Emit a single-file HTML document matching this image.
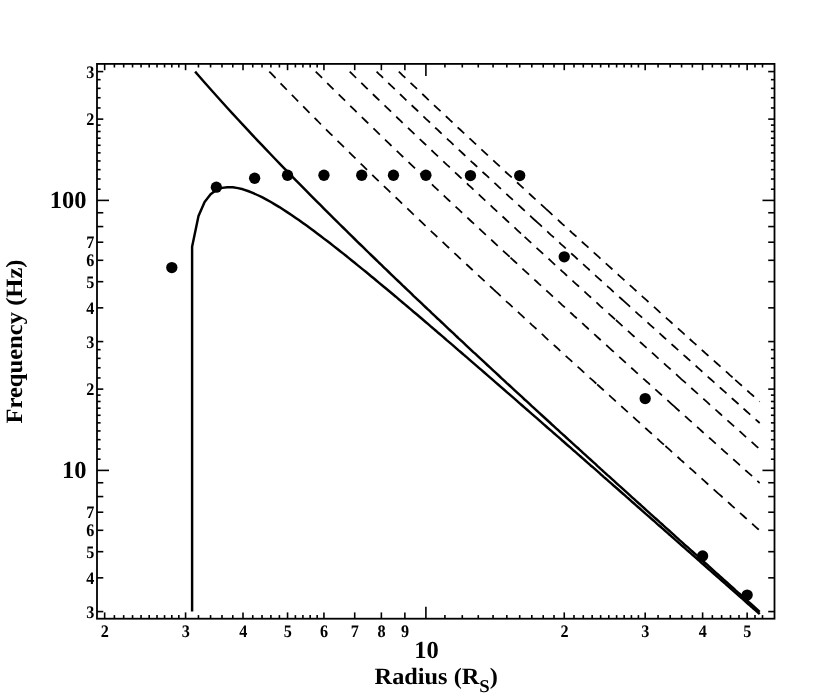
<!DOCTYPE html><html lang="en"><head><meta charset="utf-8"><title>chart</title>
<style>html,body{margin:0;padding:0;background:#fff;}body{width:830px;height:695px;overflow:hidden;}svg{display:block;filter:grayscale(1);}text{font-family:"Liberation Serif",serif;font-weight:bold;fill:#000;text-rendering:geometricPrecision;}</style></head><body>
<svg width="830" height="695" viewBox="0 0 830 695">
<rect x="0" y="0" width="830" height="695" fill="#fff"/>
<rect x="97.0" y="63.9" width="677.5" height="554.8000000000001" fill="none" stroke="#000" stroke-width="1.8"/>
<line x1="104.65" y1="618.7" x2="104.65" y2="612.4000000000001" stroke="#000" stroke-width="1.6"/>
<line x1="104.65" y1="63.9" x2="104.65" y2="70.2" stroke="#000" stroke-width="1.6"/>
<line x1="114.39" y1="618.7" x2="114.39" y2="615.1" stroke="#000" stroke-width="1.6"/>
<line x1="114.39" y1="63.9" x2="114.39" y2="67.5" stroke="#000" stroke-width="1.6"/>
<line x1="123.68" y1="618.7" x2="123.68" y2="615.1" stroke="#000" stroke-width="1.6"/>
<line x1="123.68" y1="63.9" x2="123.68" y2="67.5" stroke="#000" stroke-width="1.6"/>
<line x1="132.55" y1="618.7" x2="132.55" y2="615.1" stroke="#000" stroke-width="1.6"/>
<line x1="132.55" y1="63.9" x2="132.55" y2="67.5" stroke="#000" stroke-width="1.6"/>
<line x1="141.05" y1="618.7" x2="141.05" y2="615.1" stroke="#000" stroke-width="1.6"/>
<line x1="141.05" y1="63.9" x2="141.05" y2="67.5" stroke="#000" stroke-width="1.6"/>
<line x1="149.19" y1="618.7" x2="149.19" y2="615.1" stroke="#000" stroke-width="1.6"/>
<line x1="149.19" y1="63.9" x2="149.19" y2="67.5" stroke="#000" stroke-width="1.6"/>
<line x1="157.02" y1="618.7" x2="157.02" y2="615.1" stroke="#000" stroke-width="1.6"/>
<line x1="157.02" y1="63.9" x2="157.02" y2="67.5" stroke="#000" stroke-width="1.6"/>
<line x1="164.55" y1="618.7" x2="164.55" y2="615.1" stroke="#000" stroke-width="1.6"/>
<line x1="164.55" y1="63.9" x2="164.55" y2="67.5" stroke="#000" stroke-width="1.6"/>
<line x1="171.81" y1="618.7" x2="171.81" y2="615.1" stroke="#000" stroke-width="1.6"/>
<line x1="171.81" y1="63.9" x2="171.81" y2="67.5" stroke="#000" stroke-width="1.6"/>
<line x1="178.82" y1="618.7" x2="178.82" y2="615.1" stroke="#000" stroke-width="1.6"/>
<line x1="178.82" y1="63.9" x2="178.82" y2="67.5" stroke="#000" stroke-width="1.6"/>
<line x1="185.58" y1="618.7" x2="185.58" y2="612.4000000000001" stroke="#000" stroke-width="1.6"/>
<line x1="185.58" y1="63.9" x2="185.58" y2="70.2" stroke="#000" stroke-width="1.6"/>
<line x1="198.47" y1="618.7" x2="198.47" y2="615.1" stroke="#000" stroke-width="1.6"/>
<line x1="198.47" y1="63.9" x2="198.47" y2="67.5" stroke="#000" stroke-width="1.6"/>
<line x1="210.57" y1="618.7" x2="210.57" y2="615.1" stroke="#000" stroke-width="1.6"/>
<line x1="210.57" y1="63.9" x2="210.57" y2="67.5" stroke="#000" stroke-width="1.6"/>
<line x1="221.98" y1="618.7" x2="221.98" y2="615.1" stroke="#000" stroke-width="1.6"/>
<line x1="221.98" y1="63.9" x2="221.98" y2="67.5" stroke="#000" stroke-width="1.6"/>
<line x1="232.77" y1="618.7" x2="232.77" y2="615.1" stroke="#000" stroke-width="1.6"/>
<line x1="232.77" y1="63.9" x2="232.77" y2="67.5" stroke="#000" stroke-width="1.6"/>
<line x1="243.01" y1="618.7" x2="243.01" y2="612.4000000000001" stroke="#000" stroke-width="1.6"/>
<line x1="243.01" y1="63.9" x2="243.01" y2="70.2" stroke="#000" stroke-width="1.6"/>
<line x1="252.75" y1="618.7" x2="252.75" y2="615.1" stroke="#000" stroke-width="1.6"/>
<line x1="252.75" y1="63.9" x2="252.75" y2="67.5" stroke="#000" stroke-width="1.6"/>
<line x1="262.03" y1="618.7" x2="262.03" y2="615.1" stroke="#000" stroke-width="1.6"/>
<line x1="262.03" y1="63.9" x2="262.03" y2="67.5" stroke="#000" stroke-width="1.6"/>
<line x1="270.90" y1="618.7" x2="270.90" y2="615.1" stroke="#000" stroke-width="1.6"/>
<line x1="270.90" y1="63.9" x2="270.90" y2="67.5" stroke="#000" stroke-width="1.6"/>
<line x1="279.40" y1="618.7" x2="279.40" y2="615.1" stroke="#000" stroke-width="1.6"/>
<line x1="279.40" y1="63.9" x2="279.40" y2="67.5" stroke="#000" stroke-width="1.6"/>
<line x1="287.55" y1="618.7" x2="287.55" y2="612.4000000000001" stroke="#000" stroke-width="1.6"/>
<line x1="287.55" y1="63.9" x2="287.55" y2="70.2" stroke="#000" stroke-width="1.6"/>
<line x1="295.38" y1="618.7" x2="295.38" y2="615.1" stroke="#000" stroke-width="1.6"/>
<line x1="295.38" y1="63.9" x2="295.38" y2="67.5" stroke="#000" stroke-width="1.6"/>
<line x1="302.91" y1="618.7" x2="302.91" y2="615.1" stroke="#000" stroke-width="1.6"/>
<line x1="302.91" y1="63.9" x2="302.91" y2="67.5" stroke="#000" stroke-width="1.6"/>
<line x1="310.17" y1="618.7" x2="310.17" y2="615.1" stroke="#000" stroke-width="1.6"/>
<line x1="310.17" y1="63.9" x2="310.17" y2="67.5" stroke="#000" stroke-width="1.6"/>
<line x1="317.17" y1="618.7" x2="317.17" y2="615.1" stroke="#000" stroke-width="1.6"/>
<line x1="317.17" y1="63.9" x2="317.17" y2="67.5" stroke="#000" stroke-width="1.6"/>
<line x1="323.94" y1="618.7" x2="323.94" y2="612.4000000000001" stroke="#000" stroke-width="1.6"/>
<line x1="323.94" y1="63.9" x2="323.94" y2="70.2" stroke="#000" stroke-width="1.6"/>
<line x1="354.71" y1="618.7" x2="354.71" y2="612.4000000000001" stroke="#000" stroke-width="1.6"/>
<line x1="354.71" y1="63.9" x2="354.71" y2="70.2" stroke="#000" stroke-width="1.6"/>
<line x1="381.36" y1="618.7" x2="381.36" y2="612.4000000000001" stroke="#000" stroke-width="1.6"/>
<line x1="381.36" y1="63.9" x2="381.36" y2="70.2" stroke="#000" stroke-width="1.6"/>
<line x1="404.87" y1="618.7" x2="404.87" y2="612.4000000000001" stroke="#000" stroke-width="1.6"/>
<line x1="404.87" y1="63.9" x2="404.87" y2="70.2" stroke="#000" stroke-width="1.6"/>
<line x1="425.90" y1="618.7" x2="425.90" y2="606.7" stroke="#000" stroke-width="1.6"/>
<line x1="425.90" y1="63.9" x2="425.90" y2="75.9" stroke="#000" stroke-width="1.6"/>
<line x1="444.92" y1="618.7" x2="444.92" y2="615.1" stroke="#000" stroke-width="1.6"/>
<line x1="444.92" y1="63.9" x2="444.92" y2="67.5" stroke="#000" stroke-width="1.6"/>
<line x1="462.29" y1="618.7" x2="462.29" y2="615.1" stroke="#000" stroke-width="1.6"/>
<line x1="462.29" y1="63.9" x2="462.29" y2="67.5" stroke="#000" stroke-width="1.6"/>
<line x1="478.27" y1="618.7" x2="478.27" y2="615.1" stroke="#000" stroke-width="1.6"/>
<line x1="478.27" y1="63.9" x2="478.27" y2="67.5" stroke="#000" stroke-width="1.6"/>
<line x1="493.06" y1="618.7" x2="493.06" y2="615.1" stroke="#000" stroke-width="1.6"/>
<line x1="493.06" y1="63.9" x2="493.06" y2="67.5" stroke="#000" stroke-width="1.6"/>
<line x1="506.83" y1="618.7" x2="506.83" y2="615.1" stroke="#000" stroke-width="1.6"/>
<line x1="506.83" y1="63.9" x2="506.83" y2="67.5" stroke="#000" stroke-width="1.6"/>
<line x1="519.71" y1="618.7" x2="519.71" y2="615.1" stroke="#000" stroke-width="1.6"/>
<line x1="519.71" y1="63.9" x2="519.71" y2="67.5" stroke="#000" stroke-width="1.6"/>
<line x1="531.81" y1="618.7" x2="531.81" y2="615.1" stroke="#000" stroke-width="1.6"/>
<line x1="531.81" y1="63.9" x2="531.81" y2="67.5" stroke="#000" stroke-width="1.6"/>
<line x1="543.22" y1="618.7" x2="543.22" y2="615.1" stroke="#000" stroke-width="1.6"/>
<line x1="543.22" y1="63.9" x2="543.22" y2="67.5" stroke="#000" stroke-width="1.6"/>
<line x1="554.02" y1="618.7" x2="554.02" y2="615.1" stroke="#000" stroke-width="1.6"/>
<line x1="554.02" y1="63.9" x2="554.02" y2="67.5" stroke="#000" stroke-width="1.6"/>
<line x1="564.25" y1="618.7" x2="564.25" y2="612.4000000000001" stroke="#000" stroke-width="1.6"/>
<line x1="564.25" y1="63.9" x2="564.25" y2="70.2" stroke="#000" stroke-width="1.6"/>
<line x1="573.99" y1="618.7" x2="573.99" y2="615.1" stroke="#000" stroke-width="1.6"/>
<line x1="573.99" y1="63.9" x2="573.99" y2="67.5" stroke="#000" stroke-width="1.6"/>
<line x1="583.28" y1="618.7" x2="583.28" y2="615.1" stroke="#000" stroke-width="1.6"/>
<line x1="583.28" y1="63.9" x2="583.28" y2="67.5" stroke="#000" stroke-width="1.6"/>
<line x1="592.15" y1="618.7" x2="592.15" y2="615.1" stroke="#000" stroke-width="1.6"/>
<line x1="592.15" y1="63.9" x2="592.15" y2="67.5" stroke="#000" stroke-width="1.6"/>
<line x1="600.65" y1="618.7" x2="600.65" y2="615.1" stroke="#000" stroke-width="1.6"/>
<line x1="600.65" y1="63.9" x2="600.65" y2="67.5" stroke="#000" stroke-width="1.6"/>
<line x1="608.79" y1="618.7" x2="608.79" y2="615.1" stroke="#000" stroke-width="1.6"/>
<line x1="608.79" y1="63.9" x2="608.79" y2="67.5" stroke="#000" stroke-width="1.6"/>
<line x1="616.62" y1="618.7" x2="616.62" y2="615.1" stroke="#000" stroke-width="1.6"/>
<line x1="616.62" y1="63.9" x2="616.62" y2="67.5" stroke="#000" stroke-width="1.6"/>
<line x1="624.15" y1="618.7" x2="624.15" y2="615.1" stroke="#000" stroke-width="1.6"/>
<line x1="624.15" y1="63.9" x2="624.15" y2="67.5" stroke="#000" stroke-width="1.6"/>
<line x1="631.41" y1="618.7" x2="631.41" y2="615.1" stroke="#000" stroke-width="1.6"/>
<line x1="631.41" y1="63.9" x2="631.41" y2="67.5" stroke="#000" stroke-width="1.6"/>
<line x1="638.42" y1="618.7" x2="638.42" y2="615.1" stroke="#000" stroke-width="1.6"/>
<line x1="638.42" y1="63.9" x2="638.42" y2="67.5" stroke="#000" stroke-width="1.6"/>
<line x1="645.18" y1="618.7" x2="645.18" y2="612.4000000000001" stroke="#000" stroke-width="1.6"/>
<line x1="645.18" y1="63.9" x2="645.18" y2="70.2" stroke="#000" stroke-width="1.6"/>
<line x1="658.07" y1="618.7" x2="658.07" y2="615.1" stroke="#000" stroke-width="1.6"/>
<line x1="658.07" y1="63.9" x2="658.07" y2="67.5" stroke="#000" stroke-width="1.6"/>
<line x1="670.17" y1="618.7" x2="670.17" y2="615.1" stroke="#000" stroke-width="1.6"/>
<line x1="670.17" y1="63.9" x2="670.17" y2="67.5" stroke="#000" stroke-width="1.6"/>
<line x1="681.58" y1="618.7" x2="681.58" y2="615.1" stroke="#000" stroke-width="1.6"/>
<line x1="681.58" y1="63.9" x2="681.58" y2="67.5" stroke="#000" stroke-width="1.6"/>
<line x1="692.37" y1="618.7" x2="692.37" y2="615.1" stroke="#000" stroke-width="1.6"/>
<line x1="692.37" y1="63.9" x2="692.37" y2="67.5" stroke="#000" stroke-width="1.6"/>
<line x1="702.61" y1="618.7" x2="702.61" y2="612.4000000000001" stroke="#000" stroke-width="1.6"/>
<line x1="702.61" y1="63.9" x2="702.61" y2="70.2" stroke="#000" stroke-width="1.6"/>
<line x1="712.35" y1="618.7" x2="712.35" y2="615.1" stroke="#000" stroke-width="1.6"/>
<line x1="712.35" y1="63.9" x2="712.35" y2="67.5" stroke="#000" stroke-width="1.6"/>
<line x1="721.63" y1="618.7" x2="721.63" y2="615.1" stroke="#000" stroke-width="1.6"/>
<line x1="721.63" y1="63.9" x2="721.63" y2="67.5" stroke="#000" stroke-width="1.6"/>
<line x1="730.50" y1="618.7" x2="730.50" y2="615.1" stroke="#000" stroke-width="1.6"/>
<line x1="730.50" y1="63.9" x2="730.50" y2="67.5" stroke="#000" stroke-width="1.6"/>
<line x1="739.00" y1="618.7" x2="739.00" y2="615.1" stroke="#000" stroke-width="1.6"/>
<line x1="739.00" y1="63.9" x2="739.00" y2="67.5" stroke="#000" stroke-width="1.6"/>
<line x1="747.15" y1="618.7" x2="747.15" y2="612.4000000000001" stroke="#000" stroke-width="1.6"/>
<line x1="747.15" y1="63.9" x2="747.15" y2="70.2" stroke="#000" stroke-width="1.6"/>
<line x1="754.98" y1="618.7" x2="754.98" y2="615.1" stroke="#000" stroke-width="1.6"/>
<line x1="754.98" y1="63.9" x2="754.98" y2="67.5" stroke="#000" stroke-width="1.6"/>
<line x1="762.51" y1="618.7" x2="762.51" y2="615.1" stroke="#000" stroke-width="1.6"/>
<line x1="762.51" y1="63.9" x2="762.51" y2="67.5" stroke="#000" stroke-width="1.6"/>
<line x1="97.0" y1="611.58" x2="103.3" y2="611.58" stroke="#000" stroke-width="1.6"/>
<line x1="774.5" y1="611.58" x2="768.2" y2="611.58" stroke="#000" stroke-width="1.6"/>
<line x1="97.0" y1="577.84" x2="103.3" y2="577.84" stroke="#000" stroke-width="1.6"/>
<line x1="774.5" y1="577.84" x2="768.2" y2="577.84" stroke="#000" stroke-width="1.6"/>
<line x1="97.0" y1="551.68" x2="103.3" y2="551.68" stroke="#000" stroke-width="1.6"/>
<line x1="774.5" y1="551.68" x2="768.2" y2="551.68" stroke="#000" stroke-width="1.6"/>
<line x1="97.0" y1="530.30" x2="103.3" y2="530.30" stroke="#000" stroke-width="1.6"/>
<line x1="774.5" y1="530.30" x2="768.2" y2="530.30" stroke="#000" stroke-width="1.6"/>
<line x1="97.0" y1="512.22" x2="103.3" y2="512.22" stroke="#000" stroke-width="1.6"/>
<line x1="774.5" y1="512.22" x2="768.2" y2="512.22" stroke="#000" stroke-width="1.6"/>
<line x1="97.0" y1="496.57" x2="103.3" y2="496.57" stroke="#000" stroke-width="1.6"/>
<line x1="774.5" y1="496.57" x2="768.2" y2="496.57" stroke="#000" stroke-width="1.6"/>
<line x1="97.0" y1="482.75" x2="103.3" y2="482.75" stroke="#000" stroke-width="1.6"/>
<line x1="774.5" y1="482.75" x2="768.2" y2="482.75" stroke="#000" stroke-width="1.6"/>
<line x1="97.0" y1="470.40" x2="109.0" y2="470.40" stroke="#000" stroke-width="1.6"/>
<line x1="774.5" y1="470.40" x2="762.5" y2="470.40" stroke="#000" stroke-width="1.6"/>
<line x1="97.0" y1="459.22" x2="100.6" y2="459.22" stroke="#000" stroke-width="1.6"/>
<line x1="774.5" y1="459.22" x2="770.9" y2="459.22" stroke="#000" stroke-width="1.6"/>
<line x1="97.0" y1="449.02" x2="100.6" y2="449.02" stroke="#000" stroke-width="1.6"/>
<line x1="774.5" y1="449.02" x2="770.9" y2="449.02" stroke="#000" stroke-width="1.6"/>
<line x1="97.0" y1="439.64" x2="100.6" y2="439.64" stroke="#000" stroke-width="1.6"/>
<line x1="774.5" y1="439.64" x2="770.9" y2="439.64" stroke="#000" stroke-width="1.6"/>
<line x1="97.0" y1="430.95" x2="100.6" y2="430.95" stroke="#000" stroke-width="1.6"/>
<line x1="774.5" y1="430.95" x2="770.9" y2="430.95" stroke="#000" stroke-width="1.6"/>
<line x1="97.0" y1="422.86" x2="100.6" y2="422.86" stroke="#000" stroke-width="1.6"/>
<line x1="774.5" y1="422.86" x2="770.9" y2="422.86" stroke="#000" stroke-width="1.6"/>
<line x1="97.0" y1="415.29" x2="100.6" y2="415.29" stroke="#000" stroke-width="1.6"/>
<line x1="774.5" y1="415.29" x2="770.9" y2="415.29" stroke="#000" stroke-width="1.6"/>
<line x1="97.0" y1="408.18" x2="100.6" y2="408.18" stroke="#000" stroke-width="1.6"/>
<line x1="774.5" y1="408.18" x2="770.9" y2="408.18" stroke="#000" stroke-width="1.6"/>
<line x1="97.0" y1="401.48" x2="100.6" y2="401.48" stroke="#000" stroke-width="1.6"/>
<line x1="774.5" y1="401.48" x2="770.9" y2="401.48" stroke="#000" stroke-width="1.6"/>
<line x1="97.0" y1="395.14" x2="100.6" y2="395.14" stroke="#000" stroke-width="1.6"/>
<line x1="774.5" y1="395.14" x2="770.9" y2="395.14" stroke="#000" stroke-width="1.6"/>
<line x1="97.0" y1="389.12" x2="103.3" y2="389.12" stroke="#000" stroke-width="1.6"/>
<line x1="774.5" y1="389.12" x2="768.2" y2="389.12" stroke="#000" stroke-width="1.6"/>
<line x1="97.0" y1="377.95" x2="100.6" y2="377.95" stroke="#000" stroke-width="1.6"/>
<line x1="774.5" y1="377.95" x2="770.9" y2="377.95" stroke="#000" stroke-width="1.6"/>
<line x1="97.0" y1="367.74" x2="100.6" y2="367.74" stroke="#000" stroke-width="1.6"/>
<line x1="774.5" y1="367.74" x2="770.9" y2="367.74" stroke="#000" stroke-width="1.6"/>
<line x1="97.0" y1="358.36" x2="100.6" y2="358.36" stroke="#000" stroke-width="1.6"/>
<line x1="774.5" y1="358.36" x2="770.9" y2="358.36" stroke="#000" stroke-width="1.6"/>
<line x1="97.0" y1="349.67" x2="100.6" y2="349.67" stroke="#000" stroke-width="1.6"/>
<line x1="774.5" y1="349.67" x2="770.9" y2="349.67" stroke="#000" stroke-width="1.6"/>
<line x1="97.0" y1="341.58" x2="103.3" y2="341.58" stroke="#000" stroke-width="1.6"/>
<line x1="774.5" y1="341.58" x2="768.2" y2="341.58" stroke="#000" stroke-width="1.6"/>
<line x1="97.0" y1="307.84" x2="103.3" y2="307.84" stroke="#000" stroke-width="1.6"/>
<line x1="774.5" y1="307.84" x2="768.2" y2="307.84" stroke="#000" stroke-width="1.6"/>
<line x1="97.0" y1="281.68" x2="103.3" y2="281.68" stroke="#000" stroke-width="1.6"/>
<line x1="774.5" y1="281.68" x2="768.2" y2="281.68" stroke="#000" stroke-width="1.6"/>
<line x1="97.0" y1="260.30" x2="103.3" y2="260.30" stroke="#000" stroke-width="1.6"/>
<line x1="774.5" y1="260.30" x2="768.2" y2="260.30" stroke="#000" stroke-width="1.6"/>
<line x1="97.0" y1="242.22" x2="103.3" y2="242.22" stroke="#000" stroke-width="1.6"/>
<line x1="774.5" y1="242.22" x2="768.2" y2="242.22" stroke="#000" stroke-width="1.6"/>
<line x1="97.0" y1="226.57" x2="103.3" y2="226.57" stroke="#000" stroke-width="1.6"/>
<line x1="774.5" y1="226.57" x2="768.2" y2="226.57" stroke="#000" stroke-width="1.6"/>
<line x1="97.0" y1="212.75" x2="103.3" y2="212.75" stroke="#000" stroke-width="1.6"/>
<line x1="774.5" y1="212.75" x2="768.2" y2="212.75" stroke="#000" stroke-width="1.6"/>
<line x1="97.0" y1="200.40" x2="109.0" y2="200.40" stroke="#000" stroke-width="1.6"/>
<line x1="774.5" y1="200.40" x2="762.5" y2="200.40" stroke="#000" stroke-width="1.6"/>
<line x1="97.0" y1="189.22" x2="100.6" y2="189.22" stroke="#000" stroke-width="1.6"/>
<line x1="774.5" y1="189.22" x2="770.9" y2="189.22" stroke="#000" stroke-width="1.6"/>
<line x1="97.0" y1="179.02" x2="100.6" y2="179.02" stroke="#000" stroke-width="1.6"/>
<line x1="774.5" y1="179.02" x2="770.9" y2="179.02" stroke="#000" stroke-width="1.6"/>
<line x1="97.0" y1="169.64" x2="100.6" y2="169.64" stroke="#000" stroke-width="1.6"/>
<line x1="774.5" y1="169.64" x2="770.9" y2="169.64" stroke="#000" stroke-width="1.6"/>
<line x1="97.0" y1="160.95" x2="100.6" y2="160.95" stroke="#000" stroke-width="1.6"/>
<line x1="774.5" y1="160.95" x2="770.9" y2="160.95" stroke="#000" stroke-width="1.6"/>
<line x1="97.0" y1="152.86" x2="100.6" y2="152.86" stroke="#000" stroke-width="1.6"/>
<line x1="774.5" y1="152.86" x2="770.9" y2="152.86" stroke="#000" stroke-width="1.6"/>
<line x1="97.0" y1="145.29" x2="100.6" y2="145.29" stroke="#000" stroke-width="1.6"/>
<line x1="774.5" y1="145.29" x2="770.9" y2="145.29" stroke="#000" stroke-width="1.6"/>
<line x1="97.0" y1="138.18" x2="100.6" y2="138.18" stroke="#000" stroke-width="1.6"/>
<line x1="774.5" y1="138.18" x2="770.9" y2="138.18" stroke="#000" stroke-width="1.6"/>
<line x1="97.0" y1="131.48" x2="100.6" y2="131.48" stroke="#000" stroke-width="1.6"/>
<line x1="774.5" y1="131.48" x2="770.9" y2="131.48" stroke="#000" stroke-width="1.6"/>
<line x1="97.0" y1="125.14" x2="100.6" y2="125.14" stroke="#000" stroke-width="1.6"/>
<line x1="774.5" y1="125.14" x2="770.9" y2="125.14" stroke="#000" stroke-width="1.6"/>
<line x1="97.0" y1="119.12" x2="103.3" y2="119.12" stroke="#000" stroke-width="1.6"/>
<line x1="774.5" y1="119.12" x2="768.2" y2="119.12" stroke="#000" stroke-width="1.6"/>
<line x1="97.0" y1="107.95" x2="100.6" y2="107.95" stroke="#000" stroke-width="1.6"/>
<line x1="774.5" y1="107.95" x2="770.9" y2="107.95" stroke="#000" stroke-width="1.6"/>
<line x1="97.0" y1="97.74" x2="100.6" y2="97.74" stroke="#000" stroke-width="1.6"/>
<line x1="774.5" y1="97.74" x2="770.9" y2="97.74" stroke="#000" stroke-width="1.6"/>
<line x1="97.0" y1="88.36" x2="100.6" y2="88.36" stroke="#000" stroke-width="1.6"/>
<line x1="774.5" y1="88.36" x2="770.9" y2="88.36" stroke="#000" stroke-width="1.6"/>
<line x1="97.0" y1="79.67" x2="100.6" y2="79.67" stroke="#000" stroke-width="1.6"/>
<line x1="774.5" y1="79.67" x2="770.9" y2="79.67" stroke="#000" stroke-width="1.6"/>
<line x1="97.0" y1="71.58" x2="103.3" y2="71.58" stroke="#000" stroke-width="1.6"/>
<line x1="774.5" y1="71.58" x2="768.2" y2="71.58" stroke="#000" stroke-width="1.6"/>
<g fill="none" stroke="#000" stroke-linejoin="round" stroke-linecap="butt">
<path d="M195.1,71.6 L198.5,75.5 L204.6,82.5 L210.6,89.2 L216.4,95.7 L222.0,102.0 L227.4,108.0 L232.8,113.8 L238.0,119.5 L243.0,124.9 L247.9,130.2 L252.7,135.4 L257.4,140.3 L262.0,145.2 L266.5,149.9 L270.9,154.5 L275.2,159.0 L279.4,163.3 L283.5,167.6 L287.5,171.7 L291.5,175.8 L295.4,179.8 L299.2,183.6 L302.9,187.4 L306.6,191.1 L310.2,194.8 L313.7,198.3 L317.2,201.8 L320.6,205.2 L323.9,208.6 L327.2,211.9 L330.5,215.1 L333.7,218.3 L336.8,221.4 L339.9,224.5 L343.0,227.5 L346.0,230.4 L348.9,233.3 L351.8,236.2 L354.7,239.0 L357.5,241.8 L360.3,244.5 L363.1,247.2 L365.8,249.8 L368.5,252.5 L371.1,255.0 L373.7,257.5 L376.3,260.0 L378.8,262.5 L381.4,264.9 L383.8,267.3 L386.3,269.7 L388.7,272.0 L391.1,274.3 L393.5,276.6 L395.8,278.8 L398.1,281.0 L400.4,283.2 L402.6,285.4 L404.9,287.5 L407.1,289.6 L409.3,291.7 L411.4,293.7 L413.5,295.8 L415.7,297.8 L417.8,299.8 L419.8,301.7 L421.9,303.7 L423.9,305.6 L425.9,307.5 L427.9,309.4 L429.9,311.2 L431.8,313.1 L433.7,314.9 L435.6,316.7 L437.5,318.5 L439.4,320.2 L441.3,322.0 L443.1,323.7 L444.9,325.4 L446.7,327.1 L448.5,328.8 L450.3,330.5 L452.1,332.1 L453.8,333.7 L455.5,335.4 L457.2,337.0 L458.9,338.6 L460.6,340.1 L462.3,341.7 L463.9,343.2 L465.6,344.8 L467.2,346.3 L468.8,347.8 L470.4,349.3 L472.0,350.8 L473.6,352.3 L475.2,353.7 L478.3,356.6 L481.3,359.4 L484.3,362.2 L487.3,365.0 L490.2,367.7 L493.1,370.3 L495.9,372.9 L498.7,375.5 L501.4,378.1 L504.2,380.6 L506.8,383.1 L509.5,385.5 L512.1,387.9 L514.7,390.3 L517.2,392.6 L519.7,394.9 L522.2,397.2 L524.6,399.5 L527.1,401.7 L529.5,403.9 L531.8,406.1 L534.1,408.2 L536.5,410.3 L538.7,412.4 L541.0,414.5 L543.2,416.5 L545.4,418.5 L547.6,420.5 L549.8,422.5 L551.9,424.5 L554.0,426.4 L556.1,428.3 L558.2,430.2 L560.2,432.1 L562.2,433.9 L564.3,435.7 L566.2,437.5 L568.2,439.3 L570.2,441.1 L572.1,442.9 L574.0,444.6 L575.9,446.3 L577.8,448.0 L579.6,449.7 L581.5,451.4 L583.3,453.1 L585.1,454.7 L586.9,456.3 L588.6,457.9 L590.4,459.5 L592.2,461.1 L593.9,462.7 L595.6,464.2 L597.3,465.8 L599.0,467.3 L600.6,468.8 L602.3,470.3 L603.9,471.8 L605.6,473.3 L607.2,474.8 L608.8,476.2 L610.4,477.6 L612.0,479.1 L614.3,481.2 L616.6,483.3 L618.9,485.4 L621.2,487.4 L623.4,489.4 L625.6,491.4 L627.8,493.4 L630.0,495.4 L632.1,497.3 L634.2,499.2 L636.3,501.1 L638.4,503.0 L640.5,504.8 L642.5,506.7 L644.5,508.5 L646.5,510.3 L648.5,512.1 L650.4,513.8 L652.4,515.6 L654.3,517.3 L656.2,519.0 L658.1,520.7 L659.9,522.4 L661.8,524.0 L663.6,525.7 L665.4,527.3 L667.2,528.9 L669.0,530.5 L670.8,532.1 L672.5,533.7 L674.2,535.2 L676.0,536.8 L677.7,538.3 L679.3,539.8 L681.0,541.3 L682.7,542.8 L684.3,544.3 L686.0,545.8 L687.6,547.2 L689.2,548.7 L690.8,550.1 L692.4,551.5 L694.5,553.4 L696.5,555.2 L698.6,557.1 L700.6,558.9 L702.6,560.7 L704.6,562.5 L706.6,564.2 L708.5,566.0 L710.4,567.7 L712.3,569.4 L714.2,571.1 L716.1,572.8 L718.0,574.5 L719.8,576.1 L721.6,577.7 L723.4,579.3 L725.2,581.0 L727.0,582.5 L728.8,584.1 L730.5,585.7 L732.2,587.2 L733.9,588.7 L735.6,590.3 L737.3,591.8 L739.0,593.3 L740.7,594.7 L742.3,596.2 L743.9,597.7 L745.5,599.1 L747.1,600.5 L748.7,602.0 L750.7,603.7 L752.7,605.5 L754.6,607.2 L756.5,608.9 L758.4,610.6 L759.7,611.8" stroke-width="2.45"/>
<path d="M192.1,611.6 L192.1,246.7 L198.5,216.1 L204.6,201.9 L210.6,194.3 L216.4,190.1 L222.0,187.9 L227.4,187.2 L232.8,187.3 L238.0,188.1 L243.0,189.3 L247.9,191.0 L252.7,192.9 L257.4,195.0 L262.0,197.2 L266.5,199.6 L270.9,202.0 L275.2,204.6 L279.4,207.1 L283.5,209.8 L287.5,212.4 L291.5,215.0 L295.4,217.7 L299.2,220.3 L302.9,223.0 L306.6,225.6 L310.2,228.2 L313.7,230.8 L317.2,233.4 L320.6,236.0 L323.9,238.6 L327.2,241.1 L330.5,243.6 L333.7,246.1 L336.8,248.5 L339.9,251.0 L343.0,253.4 L346.0,255.8 L348.9,258.1 L351.8,260.5 L354.7,262.8 L357.5,265.1 L360.3,267.4 L363.1,269.6 L365.8,271.8 L368.5,274.0 L371.1,276.2 L373.7,278.3 L376.3,280.5 L378.8,282.6 L381.4,284.7 L383.8,286.7 L386.3,288.8 L388.7,290.8 L391.1,292.8 L393.5,294.8 L395.8,296.7 L398.1,298.7 L400.4,300.6 L402.6,302.5 L404.9,304.4 L407.1,306.2 L409.3,308.1 L411.4,309.9 L413.5,311.7 L415.7,313.5 L417.8,315.3 L419.8,317.0 L421.9,318.8 L423.9,320.5 L425.9,322.2 L427.9,323.9 L429.9,325.6 L431.8,327.3 L433.7,328.9 L435.6,330.5 L437.5,332.2 L439.4,333.8 L441.3,335.4 L443.1,336.9 L444.9,338.5 L446.7,340.1 L448.5,341.6 L450.3,343.1 L452.1,344.6 L453.8,346.1 L455.5,347.6 L457.2,349.1 L458.9,350.6 L460.6,352.0 L462.3,353.5 L463.9,354.9 L465.6,356.3 L467.2,357.7 L468.8,359.1 L472.0,361.9 L475.2,364.6 L478.3,367.3 L481.3,369.9 L484.3,372.5 L487.3,375.1 L490.2,377.6 L493.1,380.1 L495.9,382.6 L498.7,385.0 L501.4,387.4 L504.2,389.8 L506.8,392.1 L509.5,394.4 L512.1,396.7 L514.7,398.9 L517.2,401.1 L519.7,403.3 L522.2,405.5 L524.6,407.6 L527.1,409.7 L529.5,411.8 L531.8,413.9 L534.1,415.9 L536.5,417.9 L538.7,419.9 L541.0,421.9 L543.2,423.9 L545.4,425.8 L547.6,427.7 L549.8,429.6 L551.9,431.4 L554.0,433.3 L556.1,435.1 L558.2,436.9 L560.2,438.7 L562.2,440.5 L564.3,442.3 L566.2,444.0 L568.2,445.7 L570.2,447.4 L572.1,449.1 L574.0,450.8 L575.9,452.4 L577.8,454.1 L579.6,455.7 L581.5,457.3 L583.3,458.9 L585.1,460.5 L586.9,462.1 L588.6,463.6 L590.4,465.2 L592.2,466.7 L593.9,468.2 L595.6,469.7 L597.3,471.2 L599.0,472.7 L600.6,474.2 L602.3,475.6 L603.9,477.1 L605.6,478.5 L607.2,479.9 L608.8,481.3 L611.2,483.4 L613.5,485.5 L615.9,487.5 L618.2,489.5 L620.4,491.5 L622.7,493.5 L624.9,495.4 L627.1,497.4 L629.3,499.3 L631.4,501.2 L633.5,503.0 L635.6,504.9 L637.7,506.7 L639.8,508.5 L641.8,510.3 L643.8,512.1 L645.8,513.9 L647.8,515.6 L649.8,517.3 L651.7,519.0 L653.7,520.7 L655.6,522.4 L657.4,524.1 L659.3,525.7 L661.2,527.3 L663.0,528.9 L664.8,530.5 L666.6,532.1 L668.4,533.7 L670.2,535.2 L671.9,536.8 L673.7,538.3 L675.4,539.8 L677.1,541.3 L678.8,542.8 L680.5,544.3 L682.1,545.8 L683.8,547.2 L685.4,548.7 L687.0,550.1 L688.7,551.5 L690.3,552.9 L692.4,554.8 L694.5,556.6 L696.5,558.4 L698.6,560.2 L700.6,562.0 L702.6,563.8 L704.6,565.5 L706.6,567.3 L708.5,569.0 L710.4,570.7 L712.3,572.4 L714.2,574.0 L716.1,575.7 L718.0,577.3 L719.8,578.9 L721.6,580.5 L723.4,582.1 L725.2,583.7 L727.0,585.3 L728.8,586.8 L730.5,588.3 L732.2,589.9 L733.9,591.4 L735.6,592.9 L737.3,594.3 L739.0,595.8 L740.7,597.3 L742.3,598.7 L743.9,600.2 L745.5,601.6 L747.1,603.0 L749.1,604.7 L751.1,606.5 L753.0,608.2 L755.0,609.9 L756.9,611.6 L758.8,613.2 L759.7,614.1" stroke-width="2.45"/>
<path d="M269.3,71.6 L270.9,73.2 L275.2,77.7 L279.4,82.1 L283.5,86.3 L287.5,90.5 L291.5,94.5 L295.4,98.5 L299.2,102.4 L302.9,106.2 L306.6,109.9 L310.2,113.5 L313.7,117.1 L317.2,120.5 L320.6,124.0 L323.9,127.3 L327.2,130.6 L330.5,133.8 L333.7,137.0 L336.8,140.1 L339.9,143.2 L343.0,146.2 L346.0,149.2 L348.9,152.1 L351.8,154.9 L354.7,157.7 L357.5,160.5 L360.3,163.2 L363.1,165.9 L365.8,168.6 L368.5,171.2 L371.1,173.7 L373.7,176.3 L376.3,178.8 L378.8,181.2 L381.4,183.6 L383.8,186.0 L386.3,188.4 L388.7,190.7 L391.1,193.0 L393.5,195.3 L395.8,197.5 L398.1,199.7 L400.4,201.9 L402.6,204.1 L404.9,206.2 L407.1,208.3 L409.3,210.4 L411.4,212.4 L413.5,214.5 L415.7,216.5 L417.8,218.5 L419.8,220.4 L421.9,222.4 L423.9,224.3 L425.9,226.2 L427.9,228.1 L429.9,229.9 L431.8,231.8 L433.7,233.6 L435.6,235.4 L437.5,237.2 L439.4,238.9 L441.3,240.7 L443.1,242.4 L444.9,244.1 L446.7,245.8 L448.5,247.5 L450.3,249.2 L452.1,250.8 L453.8,252.5 L455.5,254.1 L457.2,255.7 L458.9,257.3 L460.6,258.9 L462.3,260.4 L463.9,262.0 L465.6,263.5 L467.2,265.0 L468.8,266.5 L470.4,268.0 L472.0,269.5 L473.6,271.0 L475.2,272.4 L478.3,275.3 L481.3,278.1 L484.3,280.9 L487.3,283.7 L490.2,286.4 L493.1,289.0 L494.1,290.0 M494.1,290.0 L495.9,291.7 L498.7,294.2 L501.4,296.8 L504.2,299.3 L506.8,301.8 L509.5,304.2 L512.1,306.6 L514.7,309.0 L517.2,311.3 L519.7,313.7 L522.2,315.9 L524.6,318.2 L527.1,320.4 L529.5,322.6 L531.8,324.8 L534.1,326.9 L536.5,329.0 L538.7,331.1 L541.0,333.2 L543.2,335.2 L545.4,337.3 L547.6,339.3 L549.8,341.2 L551.9,343.2 L554.0,345.1 L556.1,347.0 L558.2,348.9 L560.2,350.8 L562.2,352.6 L564.3,354.5 L566.2,356.3 L568.2,358.1 L570.2,359.8 L572.1,361.6 L574.0,363.3 L575.9,365.1 L577.8,366.8 L579.6,368.4 L581.5,370.1 L583.3,371.8 L585.1,373.4 L586.9,375.0 L588.6,376.7 L590.4,378.3 L592.2,379.8 L593.9,381.4 L595.6,383.0 L597.1,384.4 M597.1,384.4 L599.0,386.0 L600.6,387.5 L602.3,389.0 L603.9,390.5 L605.6,392.0 L607.2,393.5 L608.8,394.9 L610.4,396.4 L612.0,397.8 L614.3,399.9 L616.6,402.0 L618.9,404.1 L621.2,406.1 L623.4,408.2 L625.6,410.2 L627.8,412.1 L630.0,414.1 L632.1,416.0 L634.2,417.9 L636.3,419.8 L638.4,421.7 L640.5,423.6 L642.5,425.4 L644.5,427.2 L646.5,429.0 L648.5,430.8 L650.4,432.5 L652.4,434.3 L654.3,436.0 L656.2,437.7 L658.1,439.4 L659.9,441.1 L661.8,442.8 L663.6,444.4 L665.4,446.0 M665.4,446.0 L667.2,447.6 L669.0,449.2 L670.8,450.8 L672.5,452.4 L674.2,454.0 L676.0,455.5 L677.7,457.0 L679.3,458.5 L681.0,460.1 L682.7,461.5 L684.3,463.0 L686.0,464.5 L687.6,465.9 L689.2,467.4 L690.8,468.8 L692.4,470.2 L694.5,472.1 L696.5,474.0 L698.6,475.8 L700.6,477.6 L702.6,479.4 L704.6,481.2 L706.6,483.0 L708.5,484.7 L710.4,486.4 L712.3,488.1 L714.2,489.8 L715.9,491.3 M715.9,491.3 L717.5,492.8 L719.3,494.4 L721.2,496.0 L723.0,497.7 L724.8,499.3 L726.6,500.9 L728.3,502.4 L730.1,504.0 L731.8,505.6 L733.5,507.1 L735.2,508.6 L736.9,510.1 L738.6,511.6 L740.2,513.1 L741.9,514.6 L743.5,516.0 L745.1,517.5 L746.7,518.9 L748.3,520.3 L750.3,522.1 L752.3,523.8 L754.2,525.6 L756.1,527.3 L758.0,529.0 L759.7,530.5" stroke-width="1.75" stroke-dasharray="9 7.2"/>
<path d="M315.7,71.6 L320.6,76.4 L323.9,79.8 L327.2,83.1 L330.5,86.3 L333.7,89.5 L336.8,92.6 L339.9,95.6 L343.0,98.7 L346.0,101.6 L348.9,104.5 L351.8,107.4 L354.7,110.2 L357.5,113.0 L360.3,115.7 L363.1,118.4 L365.8,121.0 L368.5,123.6 L371.1,126.2 L373.7,128.7 L376.3,131.2 L378.8,133.7 L381.4,136.1 L383.8,138.5 L386.3,140.9 L388.7,143.2 L391.1,145.5 L393.5,147.7 L395.8,150.0 L398.1,152.2 L400.4,154.4 L402.6,156.5 L404.9,158.7 L407.1,160.8 L409.3,162.8 L411.4,164.9 L413.5,166.9 L415.7,168.9 L417.8,170.9 L419.8,172.9 L421.9,174.8 L423.9,176.8 L425.9,178.7 L427.9,180.5 L429.9,182.4 L431.8,184.2 L433.7,186.1 L435.6,187.9 L437.5,189.6 L439.4,191.4 L441.3,193.2 L443.1,194.9 L444.9,196.6 L446.7,198.3 L448.5,200.0 L450.3,201.6 L452.1,203.3 L453.8,204.9 L455.5,206.5 L457.2,208.1 L458.9,209.7 L460.6,211.3 L462.3,212.9 L463.9,214.4 L465.6,216.0 L467.2,217.5 L468.8,219.0 L470.4,220.5 L472.0,222.0 L473.6,223.4 L475.2,224.9 L478.3,227.8 L481.3,230.6 L484.3,233.4 L487.3,236.1 L490.2,238.8 L493.1,241.5 L495.9,244.1 L498.7,246.7 L501.4,249.3 L504.2,251.8 L506.8,254.2 L509.5,256.7 L510.5,257.6 M510.5,257.6 L512.1,259.1 L514.7,261.5 L517.2,263.8 L519.7,266.1 L522.2,268.4 L524.6,270.6 L527.1,272.9 L529.5,275.1 L531.8,277.2 L534.1,279.4 L536.5,281.5 L538.7,283.6 L541.0,285.6 L543.2,287.7 L545.4,289.7 L547.6,291.7 L549.8,293.7 L551.9,295.6 L554.0,297.6 L556.1,299.5 L558.2,301.4 L560.2,303.2 L562.2,305.1 L564.3,306.9 L566.2,308.7 L568.2,310.5 L570.2,312.3 L572.1,314.0 L574.0,315.8 L575.9,317.5 L577.8,319.2 L579.6,320.9 L581.5,322.6 L583.3,324.2 L585.1,325.9 L586.9,327.5 L588.6,329.1 L590.4,330.7 L592.2,332.3 L593.9,333.9 L595.6,335.4 L597.3,337.0 L599.0,338.5 L600.6,340.0 L602.3,341.5 L603.9,343.0 L605.6,344.5 L607.2,345.9 M607.2,345.9 L608.8,347.4 L610.4,348.8 L612.0,350.3 L614.3,352.4 L616.6,354.5 L618.9,356.5 L621.2,358.6 L623.4,360.6 L625.6,362.6 L627.8,364.6 L630.0,366.5 L632.1,368.5 L634.2,370.4 L636.3,372.3 L638.4,374.2 L640.5,376.0 L642.5,377.9 L644.5,379.7 L646.5,381.5 L648.5,383.2 L650.4,385.0 L652.4,386.7 L654.3,388.5 L656.2,390.2 L658.1,391.9 L659.9,393.5 L661.8,395.2 L663.6,396.9 L665.4,398.5 L667.2,400.1 L669.0,401.7 L670.8,403.3 L672.5,404.9 L672.9,405.2 M672.9,405.2 L674.8,406.9 L676.5,408.5 L678.2,410.0 L679.9,411.5 L681.6,413.0 L683.2,414.5 L684.9,416.0 L686.5,417.4 L688.1,418.9 L689.7,420.3 L691.3,421.7 L693.4,423.6 L695.5,425.5 L697.6,427.3 L699.6,429.2 L701.6,431.0 L703.6,432.8 L705.6,434.5 L707.5,436.3 L709.5,438.0 L711.4,439.7 L713.3,441.4 L715.2,443.1 L717.0,444.8 L718.9,446.5 L720.7,448.1 L722.5,449.7 L724.3,451.3 L726.1,452.9 L727.9,454.5 L729.6,456.1 L731.4,457.6 L733.1,459.2 L734.8,460.7 L736.5,462.2 L738.2,463.7 L739.8,465.2 L741.5,466.7 L743.1,468.1 L744.7,469.6 L746.3,471.0 L747.9,472.4 L749.9,474.2 L751.9,475.9 L753.8,477.7 L755.7,479.4 L757.6,481.1 L759.5,482.8 L759.7,482.9" stroke-width="1.75" stroke-dasharray="9 7.2"/>
<path d="M349.7,71.6 L351.8,73.6 L354.7,76.5 L357.5,79.2 L360.3,82.0 L363.1,84.6 L365.8,87.3 L368.5,89.9 L371.1,92.5 L373.7,95.0 L376.3,97.5 L378.8,99.9 L381.4,102.4 L383.8,104.8 L386.3,107.1 L388.7,109.4 L391.1,111.7 L393.5,114.0 L395.8,116.3 L398.1,118.5 L400.4,120.6 L402.6,122.8 L404.9,124.9 L407.1,127.0 L409.3,129.1 L411.4,131.2 L413.5,133.2 L415.7,135.2 L417.8,137.2 L419.8,139.2 L421.9,141.1 L423.9,143.0 L425.9,144.9 L427.9,146.8 L429.9,148.7 L431.8,150.5 L433.7,152.3 L435.6,154.1 L437.5,155.9 L439.4,157.7 L441.3,159.4 L443.1,161.1 L444.9,162.9 L446.7,164.6 L448.5,166.2 L450.3,167.9 L452.1,169.6 L453.8,171.2 L455.5,172.8 L457.2,174.4 L458.9,176.0 L460.6,177.6 L462.3,179.1 L463.9,180.7 L465.6,182.2 L467.2,183.7 L468.8,185.3 L470.4,186.7 L472.0,188.2 L473.6,189.7 L475.2,191.2 L478.3,194.0 L481.3,196.9 L484.3,199.7 L487.3,202.4 L490.2,205.1 L493.1,207.8 L495.9,210.4 L498.7,213.0 L501.4,215.5 L504.2,218.0 L506.8,220.5 L509.5,222.9 L512.1,225.3 L514.7,227.7 L517.2,230.1 L519.7,232.4 L522.2,234.7 L524.6,236.9 M524.6,236.9 L527.1,239.1 L529.5,241.3 L531.8,243.5 L534.1,245.6 L536.5,247.8 L538.7,249.8 L541.0,251.9 L543.2,254.0 L545.4,256.0 L547.6,258.0 L549.8,259.9 L551.9,261.9 L554.0,263.8 L556.1,265.7 L558.2,267.6 L560.2,269.5 L562.2,271.3 L564.3,273.2 L566.2,275.0 L568.2,276.8 L570.2,278.6 L572.1,280.3 L574.0,282.1 L575.9,283.8 L577.8,285.5 L579.6,287.2 L581.5,288.8 L583.3,290.5 L585.1,292.1 L586.9,293.8 L588.6,295.4 L590.4,297.0 L592.2,298.6 L593.9,300.1 L595.6,301.7 L597.3,303.2 L599.0,304.8 L600.6,306.3 L602.3,307.8 L603.9,309.3 L605.6,310.7 L607.2,312.2 L608.8,313.7 L610.4,315.1 L612.0,316.5 L614.3,318.6 L615.9,320.0 M615.9,320.0 L618.2,322.1 L620.4,324.2 L622.7,326.2 L624.9,328.2 L627.1,330.2 L629.3,332.2 L631.4,334.1 L633.5,336.0 L635.6,337.9 L637.7,339.8 L639.8,341.7 L641.8,343.5 L643.8,345.3 L645.8,347.1 L647.8,348.9 L649.8,350.7 L651.7,352.4 L653.7,354.2 L655.6,355.9 L657.4,357.6 L659.3,359.3 L661.2,360.9 L663.0,362.6 L664.8,364.2 L666.6,365.8 L668.4,367.4 L670.2,369.0 L671.9,370.6 L673.7,372.2 L675.4,373.7 L677.1,375.2 L678.8,376.8 L679.2,377.1 M679.2,377.1 L681.0,378.8 L682.7,380.3 L684.3,381.7 L686.0,383.2 L687.6,384.7 L689.2,386.1 L690.8,387.5 L692.4,389.0 L694.5,390.8 L696.5,392.7 L698.6,394.5 L700.6,396.3 L702.6,398.1 L704.6,399.9 L706.6,401.7 L708.5,403.4 L710.4,405.2 L712.3,406.9 L714.2,408.6 L716.1,410.2 L718.0,411.9 L719.8,413.5 L721.6,415.2 L723.4,416.8 L725.2,418.4 L727.0,420.0 L728.8,421.6 L730.5,423.1 L732.2,424.7 L733.9,426.2 L735.6,427.7 L737.3,429.2 L739.0,430.7 L740.7,432.2 L742.3,433.7 L743.9,435.1 L745.5,436.6 L747.1,438.0 L748.7,439.4 L750.7,441.2 L752.7,442.9 L754.6,444.6 L756.5,446.3 L758.4,448.0 L759.7,449.2" stroke-width="1.75" stroke-dasharray="9 7.2"/>
<path d="M376.6,71.6 L378.8,73.8 L381.4,76.2 L383.8,78.6 L386.3,81.0 L388.7,83.3 L391.1,85.6 L393.5,87.8 L395.8,90.1 L398.1,92.3 L400.4,94.5 L402.6,96.6 L404.9,98.8 L407.1,100.9 L409.3,102.9 L411.4,105.0 L413.5,107.0 L415.7,109.0 L417.8,111.0 L419.8,113.0 L421.9,114.9 L423.9,116.9 L425.9,118.8 L427.9,120.6 L429.9,122.5 L431.8,124.3 L433.7,126.2 L435.6,128.0 L437.5,129.7 L439.4,131.5 L441.3,133.3 L443.1,135.0 L444.9,136.7 L446.7,138.4 L448.5,140.1 L450.3,141.7 L452.1,143.4 L453.8,145.0 L455.5,146.6 L457.2,148.2 L458.9,149.8 L460.6,151.4 L462.3,153.0 L463.9,154.5 L465.6,156.1 L467.2,157.6 L468.8,159.1 L470.4,160.6 L472.0,162.1 L473.6,163.5 L475.2,165.0 L478.3,167.9 L481.3,170.7 L484.3,173.5 L487.3,176.2 L490.2,178.9 L493.1,181.6 L495.9,184.2 L498.7,186.8 L501.4,189.4 L504.2,191.9 L506.8,194.3 L509.5,196.8 L512.1,199.2 L514.7,201.6 L517.2,203.9 L519.7,206.2 L522.2,208.5 L524.6,210.7 L527.1,213.0 L529.5,215.2 L531.8,217.3 L534.1,219.5 L535.3,220.5 M535.3,220.5 L537.6,222.6 L539.9,224.7 L542.1,226.8 L544.3,228.8 L546.5,230.8 L548.7,232.8 L550.8,234.8 L553.0,236.7 L555.1,238.6 L557.1,240.5 L559.2,242.4 L561.2,244.3 L563.3,246.1 L565.2,247.9 L567.2,249.7 L569.2,251.5 L571.1,253.3 L573.0,255.0 L574.9,256.7 L576.8,258.5 L578.7,260.2 L580.5,261.8 L582.4,263.5 L584.2,265.2 L586.0,266.8 L587.8,268.4 L589.5,270.0 L591.3,271.6 L593.0,273.2 L594.7,274.7 L596.4,276.3 L598.1,277.8 L599.8,279.3 L601.5,280.9 L603.1,282.4 L604.8,283.8 L606.4,285.3 L608.0,286.8 L609.6,288.2 L611.2,289.6 L613.5,291.8 L615.9,293.9 L618.2,296.0 L620.4,298.0 L622.7,300.0 L623.4,300.7 M623.4,300.7 L625.6,302.7 L627.8,304.7 L630.0,306.7 L632.1,308.6 L634.2,310.5 L636.3,312.4 L638.4,314.3 L640.5,316.1 L642.5,318.0 L644.5,319.8 L646.5,321.6 L648.5,323.3 L650.4,325.1 L652.4,326.8 L654.3,328.6 L656.2,330.3 L658.1,332.0 L659.9,333.6 L661.8,335.3 L663.6,337.0 L665.4,338.6 L667.2,340.2 L669.0,341.8 L670.8,343.4 L672.5,345.0 L674.2,346.5 L676.0,348.1 L677.7,349.6 L679.3,351.1 L681.0,352.6 L682.7,354.1 L684.3,355.6 L686.0,357.0 L687.6,358.5 L689.2,359.9 L690.8,361.4 L692.4,362.8 L694.5,364.7 L696.5,366.5 L698.6,368.4 L700.6,370.2 L702.6,372.0 L704.6,373.8 L706.6,375.5 L708.5,377.3 L710.4,379.0 L712.3,380.7 L714.2,382.4 L716.1,384.1 L718.0,385.7 L719.8,387.4 L721.6,389.0 L723.4,390.6 L725.2,392.2 L727.0,393.8 L728.8,395.4 L730.5,396.9 L732.2,398.5 L733.9,400.0 L735.6,401.5 L737.3,403.0 L739.0,404.5 L740.7,406.0 L742.3,407.5 L743.5,408.6 M743.5,408.6 L745.1,410.0 L746.7,411.5 L748.3,412.9 L750.3,414.7 L752.3,416.4 L754.2,418.1 L756.1,419.8 L758.0,421.5 L759.7,423.0" stroke-width="1.75" stroke-dasharray="9 7.2"/>
<path d="M398.8,71.6 L400.4,73.1 L402.6,75.3 L404.9,77.4 L407.1,79.5 L409.3,81.6 L411.4,83.6 L413.5,85.7 L415.7,87.7 L417.8,89.7 L419.8,91.6 L421.9,93.6 L423.9,95.5 L425.9,97.4 L427.9,99.3 L429.9,101.1 L431.8,103.0 L433.7,104.8 L435.6,106.6 L437.5,108.4 L439.4,110.1 L441.3,111.9 L443.1,113.6 L444.9,115.3 L446.7,117.0 L448.5,118.7 L450.3,120.4 L452.1,122.0 L453.8,123.6 L455.5,125.3 L457.2,126.9 L458.9,128.5 L460.6,130.0 L462.3,131.6 L463.9,133.1 L465.6,134.7 L467.2,136.2 L468.8,137.7 L470.4,139.2 L472.0,140.7 L473.6,142.2 L475.2,143.6 L478.3,146.5 L481.3,149.3 L484.3,152.1 L487.3,154.9 L490.2,157.6 L493.1,160.2 L495.9,162.8 L498.7,165.4 L501.4,168.0 L504.2,170.5 L506.8,173.0 L509.5,175.4 L512.1,177.8 L514.7,180.2 L517.2,182.5 L519.7,184.8 L522.2,187.1 L524.6,189.4 L527.1,191.6 L529.5,193.8 L531.8,196.0 L534.1,198.1 L536.5,200.2 L538.7,202.3 L541.0,204.4 L543.2,206.4 L545.4,208.4 L545.9,208.8 M545.9,208.8 L547.6,210.4 L549.8,212.4 L551.9,214.4 L554.0,216.3 L556.1,218.2 L558.2,220.1 L560.2,222.0 L562.2,223.8 L564.3,225.6 L566.2,227.4 L568.2,229.2 L570.2,231.0 L572.1,232.8 L574.0,234.5 L575.9,236.2 L577.8,237.9 L579.6,239.6 L581.5,241.3 L583.3,243.0 L585.1,244.6 L586.9,246.2 L588.6,247.8 L590.4,249.4 L592.2,251.0 L593.9,252.6 L595.6,254.1 L597.3,255.7 L599.0,257.2 L600.6,258.7 L602.3,260.2 L603.9,261.7 L605.6,263.2 L607.2,264.7 L608.8,266.1 L610.4,267.5 L612.0,269.0 L614.3,271.1 L616.6,273.2 L618.9,275.3 L621.2,277.3 L623.4,279.3 L625.6,281.3 L627.8,283.3 L630.0,285.3 L632.1,287.2 L634.2,289.1 L636.3,291.0 L638.4,292.9 L640.5,294.7 L642.5,296.6 L644.5,298.4 L646.5,300.2 L648.5,302.0 L650.4,303.7 L652.4,305.5 L654.3,307.2 L656.2,308.9 L658.1,310.6 L659.9,312.3 L661.8,313.9 L663.6,315.6 L665.4,317.2 L667.2,318.8 L669.0,320.4 L670.8,322.0 L672.5,323.6 L674.2,325.1 L676.0,326.7 L677.7,328.2 L679.3,329.7 L681.0,331.2 L682.7,332.7 L684.3,334.2 L686.0,335.7 L687.6,337.1 L689.2,338.6 L689.7,339.0 M689.7,339.0 L691.3,340.5 L693.4,342.4 L695.5,344.2 L697.6,346.1 L699.6,347.9 L701.6,349.7 L703.6,351.5 L705.6,353.3 L707.5,355.0 L709.5,356.7 L711.4,358.5 L713.3,360.2 L715.2,361.9 L717.0,363.5 L718.9,365.2 L720.7,366.8 L722.5,368.4 L724.3,370.1 L726.1,371.6 L727.9,373.2 L729.6,374.8 L731.4,376.3 L733.1,377.9 L734.8,379.4 L735.2,379.8 M735.2,379.8 L736.9,381.3 L738.6,382.8 L740.2,384.3 L741.9,385.7 L743.5,387.2 L745.1,388.7 L746.7,390.1 L748.3,391.5 L750.3,393.3 L752.3,395.0 L754.2,396.7 L756.1,398.5 L758.0,400.2 L759.7,401.7" stroke-width="1.75" stroke-dasharray="9 7.2"/>
</g>
<circle cx="171.81" cy="267.55" r="5.65" fill="#000"/>
<circle cx="216.35" cy="187.22" r="5.65" fill="#000"/>
<circle cx="254.64" cy="178.24" r="5.65" fill="#000"/>
<circle cx="287.55" cy="175.27" r="5.65" fill="#000"/>
<circle cx="323.94" cy="175.27" r="5.65" fill="#000"/>
<circle cx="361.71" cy="175.27" r="5.65" fill="#000"/>
<circle cx="393.46" cy="175.27" r="5.65" fill="#000"/>
<circle cx="425.90" cy="175.27" r="5.65" fill="#000"/>
<circle cx="470.44" cy="175.56" r="5.65" fill="#000"/>
<circle cx="519.71" cy="175.56" r="5.65" fill="#000"/>
<circle cx="564.25" cy="256.83" r="5.65" fill="#000"/>
<circle cx="645.18" cy="398.58" r="5.65" fill="#000"/>
<circle cx="702.61" cy="555.98" r="5.65" fill="#000"/>
<circle cx="747.15" cy="595.12" r="5.65" fill="#000"/>
<text transform="translate(94.40,77.58) scale(0.92,1)" font-size="17.6" text-anchor="end">3</text>
<text transform="translate(94.40,125.12) scale(0.92,1)" font-size="17.6" text-anchor="end">2</text>
<text transform="translate(94.40,248.22) scale(0.92,1)" font-size="17.6" text-anchor="end">7</text>
<text transform="translate(94.40,266.30) scale(0.92,1)" font-size="17.6" text-anchor="end">6</text>
<text transform="translate(94.40,287.68) scale(0.92,1)" font-size="17.6" text-anchor="end">5</text>
<text transform="translate(94.40,313.84) scale(0.92,1)" font-size="17.6" text-anchor="end">4</text>
<text transform="translate(94.40,347.58) scale(0.92,1)" font-size="17.6" text-anchor="end">3</text>
<text transform="translate(94.40,395.12) scale(0.92,1)" font-size="17.6" text-anchor="end">2</text>
<text transform="translate(94.40,518.22) scale(0.92,1)" font-size="17.6" text-anchor="end">7</text>
<text transform="translate(94.40,536.30) scale(0.92,1)" font-size="17.6" text-anchor="end">6</text>
<text transform="translate(94.40,557.68) scale(0.92,1)" font-size="17.6" text-anchor="end">5</text>
<text transform="translate(94.40,583.84) scale(0.92,1)" font-size="17.6" text-anchor="end">4</text>
<text transform="translate(94.40,617.58) scale(0.92,1)" font-size="17.6" text-anchor="end">3</text>
<text transform="translate(86.40,208.40)" font-size="24.5" text-anchor="end">100</text>
<text transform="translate(86.40,478.40)" font-size="24.5" text-anchor="end">10</text>
<text transform="translate(104.85,637.00) scale(0.92,1)" font-size="17.6" text-anchor="middle">2</text>
<text transform="translate(185.78,637.00) scale(0.92,1)" font-size="17.6" text-anchor="middle">3</text>
<text transform="translate(243.21,637.00) scale(0.92,1)" font-size="17.6" text-anchor="middle">4</text>
<text transform="translate(287.75,637.00) scale(0.92,1)" font-size="17.6" text-anchor="middle">5</text>
<text transform="translate(324.14,637.00) scale(0.92,1)" font-size="17.6" text-anchor="middle">6</text>
<text transform="translate(354.91,637.00) scale(0.92,1)" font-size="17.6" text-anchor="middle">7</text>
<text transform="translate(381.56,637.00) scale(0.92,1)" font-size="17.6" text-anchor="middle">8</text>
<text transform="translate(405.07,637.00) scale(0.92,1)" font-size="17.6" text-anchor="middle">9</text>
<text transform="translate(564.45,637.00) scale(0.92,1)" font-size="17.6" text-anchor="middle">2</text>
<text transform="translate(645.38,637.00) scale(0.92,1)" font-size="17.6" text-anchor="middle">3</text>
<text transform="translate(702.81,637.00) scale(0.92,1)" font-size="17.6" text-anchor="middle">4</text>
<text transform="translate(747.35,637.00) scale(0.92,1)" font-size="17.6" text-anchor="middle">5</text>
<text transform="translate(426.40,657.60)" font-size="24.5" text-anchor="middle">10</text>
<text transform="translate(436.20,683.90) scale(1.039,1)" font-size="23.4" text-anchor="middle">Radius (R<tspan font-size="18" dy="7.7">S</tspan><tspan dy="-7.7">)</tspan></text>
<text transform="translate(21.80,341.50) rotate(-90) scale(1.051,1)" font-size="23.4" text-anchor="middle">Frequency (Hz)</text>
</svg></body></html>
